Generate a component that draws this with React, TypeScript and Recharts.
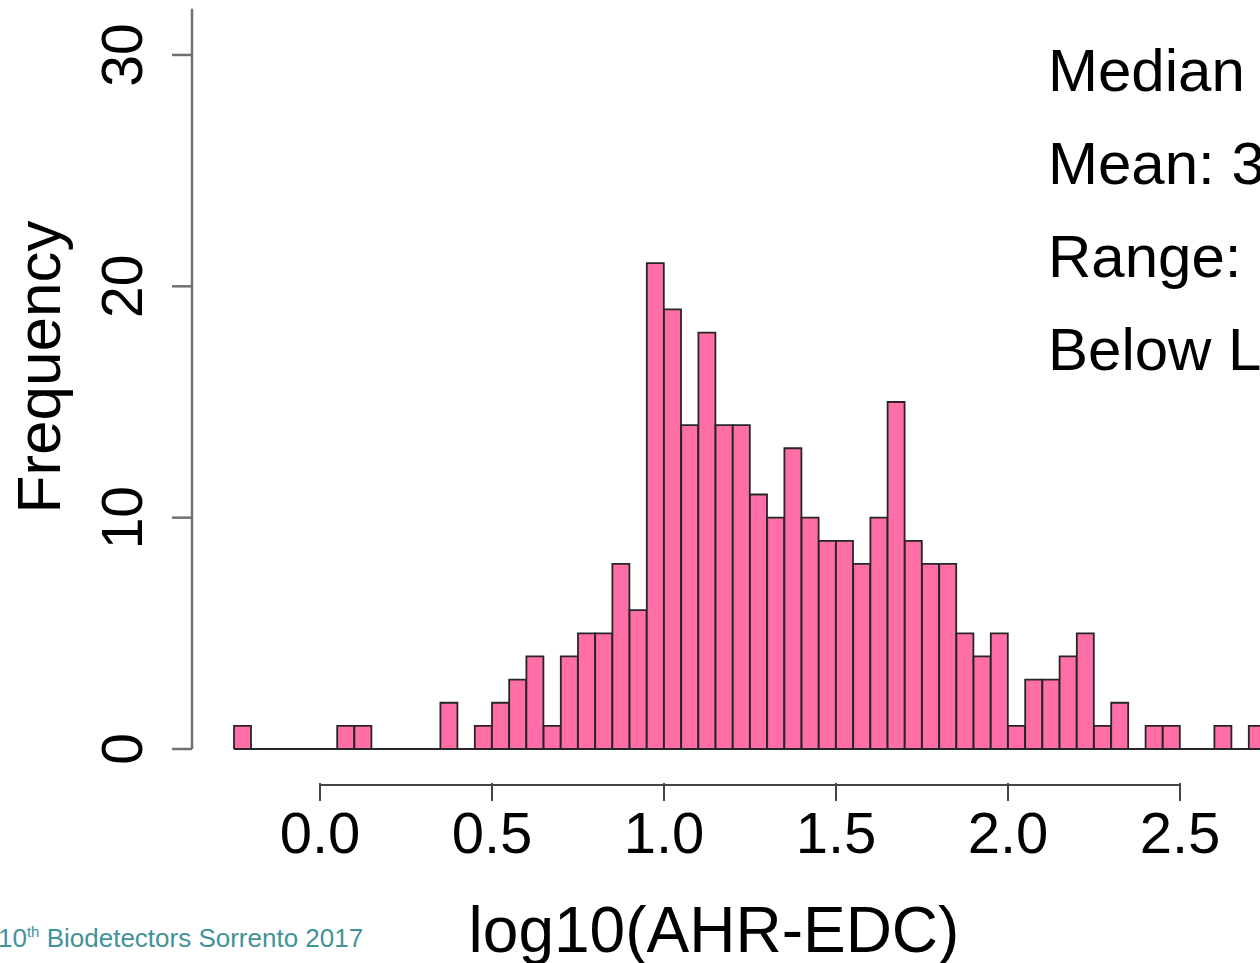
import React from 'react';
import { ComposedChart, Bar, XAxis, YAxis, ReferenceLine } from 'recharts';

// Histogram bins (left edge of each 0.05-wide bin of log10(AHR-EDC))
const binStarts: number[] = [
  -0.25, -0.2, -0.15, -0.1, -0.05, 0.0, 0.05, 0.1, 0.15, 0.2,
  0.25, 0.3, 0.35, 0.4, 0.45, 0.5, 0.55, 0.6, 0.65, 0.7,
  0.75, 0.8, 0.85, 0.9, 0.95, 1.0, 1.05, 1.1, 1.15, 1.2,
  1.25, 1.3, 1.35, 1.4, 1.45, 1.5, 1.55, 1.6, 1.65, 1.7,
  1.75, 1.8, 1.85, 1.9, 1.95, 2.0, 2.05, 2.1, 2.15, 2.2,
  2.25, 2.3, 2.35, 2.4, 2.45, 2.5, 2.55, 2.6, 2.65, 2.7,
];

// Frequencies
const counts: number[] = [
  1, 0, 0, 0, 0, 0, 1, 1, 0, 0,
  0, 0, 2, 0, 1, 2, 3, 4, 1, 4,
  5, 5, 8, 6, 21, 19, 14, 18, 14, 14,
  11, 10, 13, 10, 9, 9, 8, 10, 15, 9,
  8, 8, 5, 4, 5, 1, 3, 3, 4, 5,
  1, 2, 0, 1, 1, 0, 0, 1, 0, 1,
];

const xTicks: number[] = [0, 0.5, 1.0, 1.5, 2.0, 2.5];
const yTicks: number[] = [0, 10, 20, 30];
const xDomain: [number, number] = [-0.25, 2.75];
const yDomain: [number, number] = [0, 32];
const statLines: string[] = ['Median', 'Mean: 3', 'Range:', 'Below L'];
const xTitle = 'log10(AHR-EDC)';
const yTitle = 'Frequency';

const data = binStarts.map((b, i) => ({ bin: b.toFixed(2), start: b, count: counts[i] }));

const FONT = '"Liberation Sans", Arial, Helvetica, sans-serif';
const BAR_FILL = '#FF6EA7';
const BAR_STROKE = '#262626';
const AXIS_GREY = '#707070';

const XTick = (props: any) => {
  const { x, y, payload } = props;
  return (
    <g>
      <line x1={x} x2={x} y1={y + 4} y2={y + 22} stroke="#444" strokeWidth={2} />
      <text
        x={x}
        y={y + 74}
        textAnchor="middle"
        fontFamily={FONT}
        fontSize={58}
        fill="#000"
      >
        {Number(payload.value).toFixed(1)}
      </text>
    </g>
  );
};

const YTick = (props: any) => {
  const { x, y, payload } = props;
  const bx = x - 30;
  return (
    <text
      x={bx}
      y={y}
      transform={`rotate(-90, ${bx}, ${y})`}
      textAnchor="middle"
      fontFamily={FONT}
      fontSize={57}
      fill="#000"
    >
      {payload.value}
    </text>
  );
};

export default function App() {
  return (
    <div
      style={{
        position: 'fixed',
        left: 0,
        top: 0,
        width: 1260,
        height: 963,
        overflow: 'hidden',
        background: '#fff',
      }}
    >
      <div style={{ position: 'absolute', left: 0, top: 0 }}>
        <ComposedChart
          width={1280}
          height={963}
          data={data}
          margin={{ top: 8.7, right: 14, bottom: 0, left: 0 }}
          barCategoryGap={0}
          barGap={0}
        >
          <XAxis
            xAxisId="bins"
            dataKey="bin"
            type="category"
            hide
            padding={{ left: 42, right: 0 }}
          />
          <XAxis
            xAxisId="val"
            dataKey="start"
            type="number"
            domain={xDomain}
            ticks={xTicks}
            allowDataOverflow
            padding={{ left: 42, right: 0 }}
            height={214}
            axisLine={false}
            tickLine={false}
            tickSize={0}
            tickMargin={0}
            interval={0}
            tick={<XTick />}
          />
          <YAxis
            yAxisId="f"
            type="number"
            domain={yDomain}
            ticks={yTicks}
            allowDataOverflow
            width={192}
            tickSize={20}
            tickMargin={0}
            interval={0}
            axisLine={{ stroke: AXIS_GREY, strokeWidth: 2.5 }}
            tickLine={{ stroke: AXIS_GREY, strokeWidth: 2.5 }}
            tick={<YTick />}
          />
          <ReferenceLine
            xAxisId="val"
            yAxisId="f"
            segment={[
              { x: xDomain[0], y: 0 },
              { x: xDomain[1], y: 0 },
            ]}
            stroke={BAR_STROKE}
            strokeWidth={2}
            ifOverflow="visible"
          />
          <ReferenceLine
            xAxisId="val"
            yAxisId="f"
            segment={[
              { x: xTicks[0], y: -1.556 },
              { x: xTicks[xTicks.length - 1], y: -1.556 },
            ]}
            stroke="#444"
            strokeWidth={2}
            ifOverflow="visible"
          />
          <Bar
            xAxisId="bins"
            yAxisId="f"
            dataKey="count"
            fill={BAR_FILL}
            stroke={BAR_STROKE}
            strokeWidth={1.8}
            isAnimationActive={false}
          />
        </ComposedChart>
      </div>
      <svg
        width={1260}
        height={963}
        style={{ position: 'absolute', left: 0, top: 0, pointerEvents: 'none' }}
      >
        {statLines.map((s, i) => (
          <text
            key={s}
            x={1048}
            y={91 + i * 93}
            fontFamily={FONT}
            fontSize={60}
            fill="#000"
          >
            {s}
          </text>
        ))}
        <text
          x={60}
          y={367}
          transform="rotate(-90, 60, 367)"
          textAnchor="middle"
          fontFamily={FONT}
          fontSize={62}
          fill="#000"
        >
          {yTitle}
        </text>
        <text
          x={714}
          y={952}
          textAnchor="middle"
          fontFamily={FONT}
          fontSize={64}
          fill="#000"
        >
          {xTitle}
        </text>
        <text x={-2} y={947} fontFamily={FONT} fontSize={26} fill="#41939a">
          10
          <tspan fontSize={15} dy={-10}>th</tspan>
          <tspan dy={10}> Biodetectors Sorrento 2017</tspan>
        </text>
      </svg>
    </div>
  );
}
